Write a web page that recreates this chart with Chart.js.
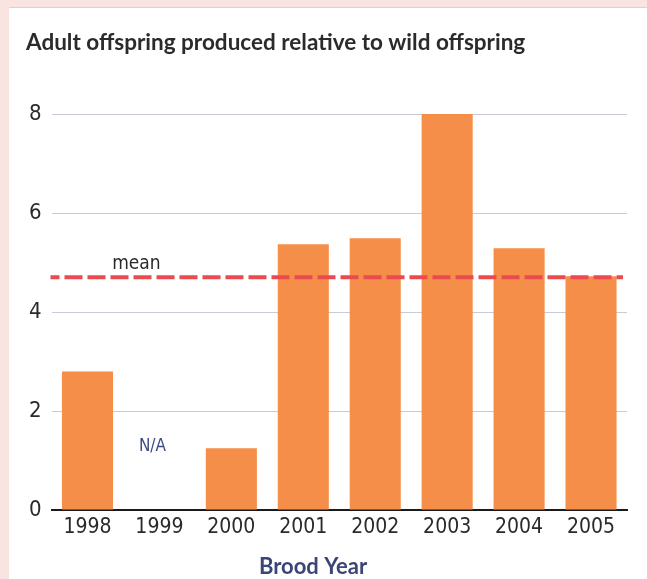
<!DOCTYPE html>
<html>
<head>
<meta charset="utf-8">
<script src="https://cdn.jsdelivr.net/npm/chart.js@4"></script>
<style>
  html, body { margin: 0; padding: 0; background: #fae6e3; }
  #wrap { position: relative; width: 647px; height: 579px; }
</style>
</head>
<body>
<div id="wrap"><canvas id="offspringChart"></canvas></div>
<script>
const broodYears = ['1998', '1999', '2000', '2001', '2002', '2003', '2004', '2005'];
const relativeOffspring = [2.8, null, 1.25, 5.37, 5.49, 8.0, 5.29, 4.72];
const meanValue = 4.7;
const yTicks = [0, 2, 4, 6, 8];

const chartTitle = 'Adult offspring produced relative to wild offspring';
const xTitle = 'Brood Year';

const narrowFont = '"DejaVu Sans Condensed", "Liberation Sans Narrow", sans-serif';

// page background + white panel
const panelBg = {
    id: 'panelBg',
    beforeDraw(chart) {
        const ctx = chart.ctx;
        ctx.save();
        ctx.fillStyle = '#fae4e1';
        ctx.fillRect(0, 0, chart.width, chart.height);
        ctx.fillStyle = '#ffffff';
        ctx.fillRect(9, 8, chart.width - 9, chart.height - 8);
        ctx.fillStyle = '#d8d2d2';
        ctx.fillRect(9, 7, chart.width - 9, 1);
        ctx.restore();
    }
};

// mean line and text labels
const extras = {
    id: 'extras',
    afterDatasetsDraw(chart) {
        const ctx = chart.ctx;
        const area = chart.chartArea;
        const x = chart.scales.x, y = chart.scales.y;
        ctx.save();
        const my = y.getPixelForValue(meanValue);
        ctx.strokeStyle = '#ea4a50';
        ctx.lineWidth = 4;
        ctx.setLineDash([18, 5]);
        ctx.lineDashOffset = 9;
        ctx.beginPath();
        ctx.moveTo(area.left - 1, my);
        ctx.lineTo(area.right - 4, my);
        ctx.stroke();
        ctx.setLineDash([]);

        ctx.fillStyle = '#2a2a2a';
        ctx.font = '19px ' + narrowFont;
        ctx.textAlign = 'center';
        ctx.textBaseline = 'alphabetic';
        ctx.fillText('mean', (x.getPixelForValue(0) + x.getPixelForValue(1)) / 2 + 13, my - 8);

        ctx.fillStyle = '#3d4a82';
        ctx.font = '17px ' + narrowFont;
        ctx.textBaseline = 'middle';
        ctx.fillText('N/A', x.getPixelForValue(1) - 7, y.getPixelForValue(1.28));

        ctx.fillStyle = '#2b2b2b';
        ctx.font = 'bold 22.5px Lato, "Open Sans", sans-serif';
        ctx.textAlign = 'left';
        ctx.fillText(chartTitle, 26, 43);

        ctx.fillStyle = '#3a4678';
        ctx.font = 'bold 22px Lato, "Open Sans", sans-serif';
        ctx.textAlign = 'center';
        ctx.fillText(xTitle, 313, 567);
        ctx.restore();
    }
};

new Chart(document.getElementById('offspringChart').getContext('2d'), {
    type: 'bar',
    data: {
        labels: broodYears,
        datasets: [{
            label: 'Relative offspring',
            data: relativeOffspring,
            backgroundColor: '#f48e48',
            borderWidth: 0,
            categoryPercentage: 1,
            barPercentage: 0.71
        }]
    },
    options: {
        responsive: true,
        maintainAspectRatio: false,
        animation: false,
        layout: { padding: { top: 114, right: 20, left: 0, bottom: 0 } },
        plugins: {
            legend: { display: false },
            tooltip: { enabled: false }
        },
        scales: {
            x: {
                afterFit(scale) { scale.height = 69; },
                grid: { display: false, drawTicks: false },
                border: { display: true, color: '#1a1a1a', width: 2 },
                ticks: {
                    padding: 5,
                    color: '#2a2a2a',
                    font: { family: narrowFont, size: 21 }
                }
            },
            y: {
                min: 0,
                max: 8,
                afterFit(scale) { scale.width = 51.5; },
                afterBuildTicks(scale) { scale.ticks = yTicks.map(v => ({ value: v })); },
                grid: {
                    drawTicks: false,
                    color: ctx => ctx.tick && ctx.tick.value === 0 ? 'rgba(0,0,0,0)' : '#c9cad8',
                    lineWidth: 1
                },
                border: { display: false },
                ticks: {
                    padding: 10,
                    color: '#2a2a2a',
                    font: { family: narrowFont, size: 22 }
                }
            }
        }
    },
    plugins: [panelBg, extras]
});
</script>
</body>
</html>
